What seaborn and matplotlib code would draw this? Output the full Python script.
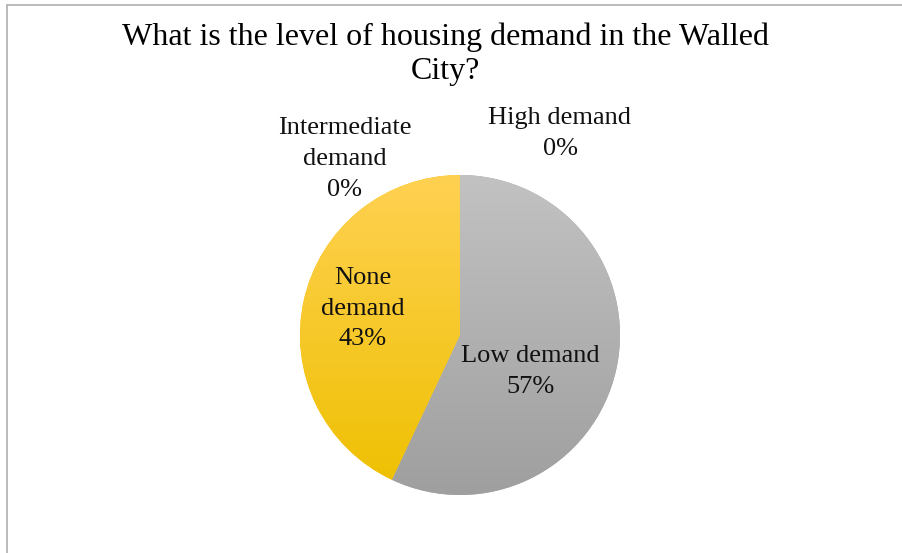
import numpy as np
import seaborn as sns
import matplotlib.pyplot as plt
from matplotlib.lines import Line2D
from matplotlib.colors import LinearSegmentedColormap

# data
categories = ['High demand', 'Low demand', 'None demand', 'Intermediate demand']
shares = [0, 57, 43, 0]
label_text = ['High demand\n0%', 'Low demand\n57%', 'None\ndemand\n43%', 'Intermediate\ndemand\n0%']
title = 'What is the level of housing demand in the Walled\nCity?'

sns.set_theme(style='white')
plt.rcParams['font.family'] = ['Liberation Serif', 'DejaVu Serif']

fig = plt.figure(figsize=(9.02, 5.53), dpi=100)
W, H = 902, 553
cx, cy, r = 460, 335, 160
ax = fig.add_axes([(cx - r) / W, (H - cy - r) / H, 2 * r / W, 2 * r / H])

wedges, _ = ax.pie(shares, startangle=90, counterclock=False, radius=1,
                   colors=['#4472c4', '#a5a5a5', '#ffc000', '#ed7d31'],
                   wedgeprops={'linewidth': 0})
ax.set_xlim(-1, 1)
ax.set_ylim(-1, 1)
ax.set_aspect('auto')
ax.axis('off')

# gradient fills, top light to bottom dark
grads = {
    1: ['#c2c2c2', '#9f9f9f'],
    2: ['#ffd152', '#eec000'],
}
g = np.linspace(0, 1, 256).reshape(-1, 1)
for i, cols in grads.items():
    cmap = LinearSegmentedColormap.from_list('g%d' % i, cols)
    im = ax.imshow(g, cmap=cmap, extent=[-1, 1, -1, 1], origin='upper',
                   aspect='auto', zorder=2)
    im.set_clip_path(wedges[i])

# label positions (data coords)
pos = {0: (0.625, 1.26), 1: (0.44, -0.23), 2: (-0.61, 0.165), 3: (-0.72, 1.10)}
for i, txt in enumerate(label_text):
    x, y = pos[i]
    ax.text(x, y, txt, ha='center', va='center', fontsize=19,
            color='#111111', zorder=5, linespacing=1.52)

fig.text(445 / W, 1 - 54 / H, title, ha='center', va='center', fontsize=23,
         color='#000000', linespacing=1.25)

# chart frame (left and top edges visible)
fig.add_artist(Line2D([6.5 / W, 6.5 / W], [0, 1 - 5 / H], color='#b5b5b5', lw=1.3,
                      transform=fig.transFigure))
fig.add_artist(Line2D([6.5 / W, 1], [1 - 5 / H, 1 - 5 / H], color='#b5b5b5', lw=1.3,
                      transform=fig.transFigure))

fig.savefig('out.png', dpi=100)
